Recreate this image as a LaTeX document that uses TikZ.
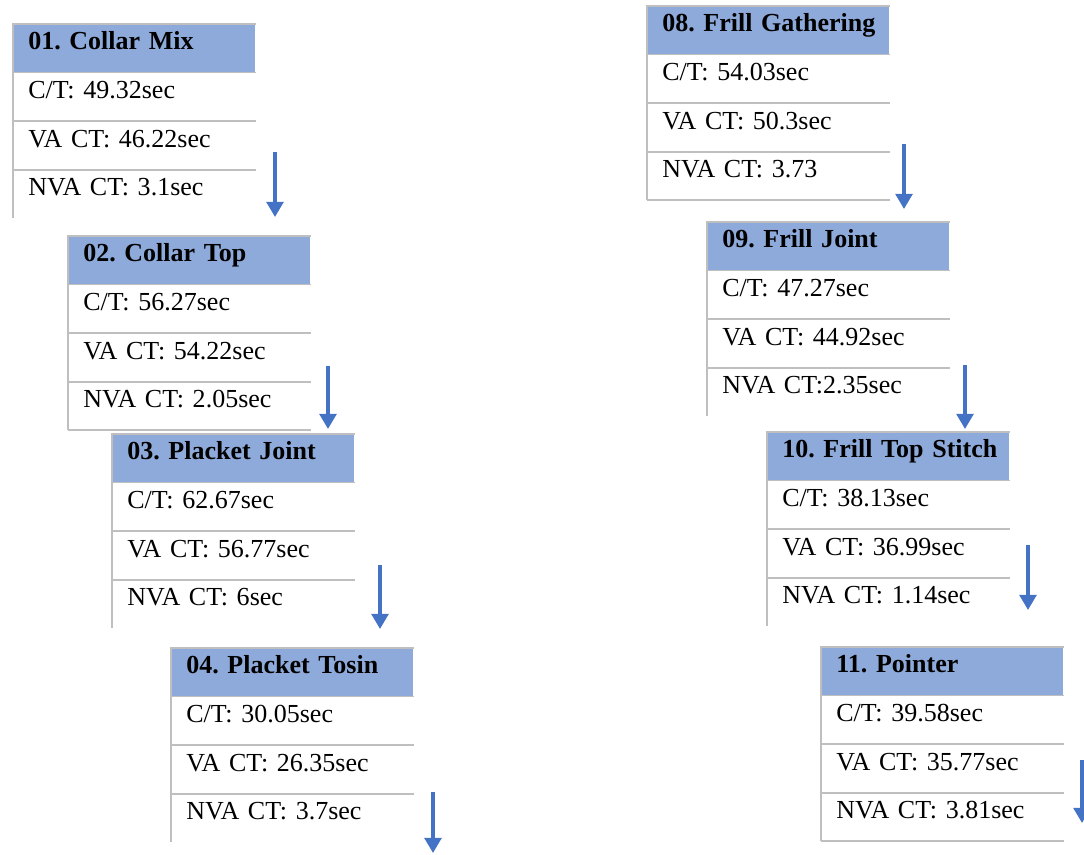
\documentclass[tikz,border=0pt]{standalone}
\usepackage{fontspec}
\setmainfont{Liberation Serif}
\frenchspacing
\usetikzlibrary{positioning,arrows.meta}
\definecolor{hdrblue}{RGB}{142,170,219}
\definecolor{rulegray}{RGB}{191,191,191}
\definecolor{flowblue}{RGB}{68,114,196}
\begin{document}
\begin{tikzpicture}[
  cell/.style={anchor=north west, inner xsep=0.375cm, inner ysep=0pt, text width=5.3cm, align=left,
    text height=0.64cm, text depth=0.56cm, font=\fontsize{18.5}{22}\selectfont,
    execute at begin node={\leavevmode\hbox\bgroup}, execute at end node={\egroup}},
  hdr/.style={cell, fill=hdrblue, font=\fontsize{18.5}{22}\selectfont\bfseries},
  rule/.style={draw=rulegray, line width=1.2pt},
  flow/.style={draw=flowblue, line width=2.5pt, -{Triangle[width=0.42cm,length=0.38cm]}}]
  \useasboundingbox (0,0) rectangle (27.1,21.35);
  % left column
  \node[hdr] (h01) at (0.325,20.75) {01. Collar Mix};
  \node[cell, below=0pt of h01] (ct01) {C/T: 49.32sec};
  \node[cell, below=0pt of ct01] (va01) {VA CT: 46.22sec};
  \node[cell, below=0pt of va01] (nva01) {NVA CT: 3.1sec};
  \node[hdr] (h02) at (1.7,15.45) {02. Collar Top};
  \node[cell, below=0pt of h02] (ct02) {C/T: 56.27sec};
  \node[cell, below=0pt of ct02] (va02) {VA CT: 54.22sec};
  \node[cell, below=0pt of va02] (nva02) {NVA CT: 2.05sec};
  \node[hdr] (h03) at (2.8,10.5) {03. Placket Joint};
  \node[cell, below=0pt of h03] (ct03) {C/T: 62.67sec};
  \node[cell, below=0pt of ct03] (va03) {VA CT: 56.77sec};
  \node[cell, below=0pt of va03] (nva03) {NVA CT: 6sec};
  \node[hdr] (h04) at (4.275,5.15) {04. Placket Tosin};
  \node[cell, below=0pt of h04] (ct04) {C/T: 30.05sec};
  \node[cell, below=0pt of ct04] (va04) {VA CT: 26.35sec};
  \node[cell, below=0pt of va04] (nva04) {NVA CT: 3.7sec};
  % right column
  \node[hdr] (h08) at (16.175,21.2) {08. Frill Gathering};
  \node[cell, below=0pt of h08] (ct08) {C/T: 54.03sec};
  \node[cell, below=0pt of ct08] (va08) {VA CT: 50.3sec};
  \node[cell, below=0pt of va08] (nva08) {NVA CT: 3.73};
  \node[hdr] (h09) at (17.675,15.8) {09. Frill Joint};
  \node[cell, below=0pt of h09] (ct09) {C/T: 47.27sec};
  \node[cell, below=0pt of ct09] (va09) {VA CT: 44.92sec};
  \node[cell, below=0pt of va09] (nva09) {NVA CT:2.35sec};
  \node[hdr] (h10) at (19.175,10.55) {10. Frill Top Stitch};
  \node[cell, below=0pt of h10] (ct10) {C/T: 38.13sec};
  \node[cell, below=0pt of ct10] (va10) {VA CT: 36.99sec};
  \node[cell, below=0pt of va10] (nva10) {NVA CT: 1.14sec};
  \node[hdr] (h11) at (20.525,5.175) {11. Pointer};
  \node[cell, below=0pt of h11] (ct11) {C/T: 39.58sec};
  \node[cell, below=0pt of ct11] (va11) {VA CT: 35.77sec};
  \node[cell, below=0pt of va11] (nva11) {NVA CT: 3.81sec};
  % table rules
  \foreach \b in {01,02,03,04,08,09,10,11} {
    \draw[rule] (h\b.north east) -- (h\b.north west) -- (nva\b.south west);
    \draw[rule] (ct\b.north west) -- (ct\b.north east);
    \draw[rule] (va\b.north west) -- (va\b.north east);
    \draw[rule] (nva\b.north west) -- (nva\b.north east);
  }
  \draw[rule] (nva02.south west) -- (nva02.south east);
  \draw[rule] (nva08.south west) -- (nva08.south east);
  \draw[rule] (nva11.south west) -- (nva11.south east);
  % flow arrows
  \coordinate (a01) at (6.875,17.55);  \coordinate (b01) at (6.875,15.925);
  \coordinate (a02) at (8.2,12.2);     \coordinate (b02) at (8.2,10.625);
  \coordinate (a03) at (9.5,7.225);    \coordinate (b03) at (9.5,5.625);
  \coordinate (a04) at (10.825,1.55);  \coordinate (b04) at (10.825,0.025);
  \coordinate (a08) at (22.6,17.75);   \coordinate (b08) at (22.6,16.125);
  \coordinate (a09) at (24.125,12.225); \coordinate (b09) at (24.125,10.625);
  \coordinate (a10) at (25.7,7.725);   \coordinate (b10) at (25.7,6.1);
  \coordinate (a11) at (27.05,2.35);   \coordinate (b11) at (27.05,0.775);
  \foreach \b in {01,02,03,04,08,09,10,11}
    \draw[flow] (a\b) -- (b\b);
\end{tikzpicture}
\end{document}
